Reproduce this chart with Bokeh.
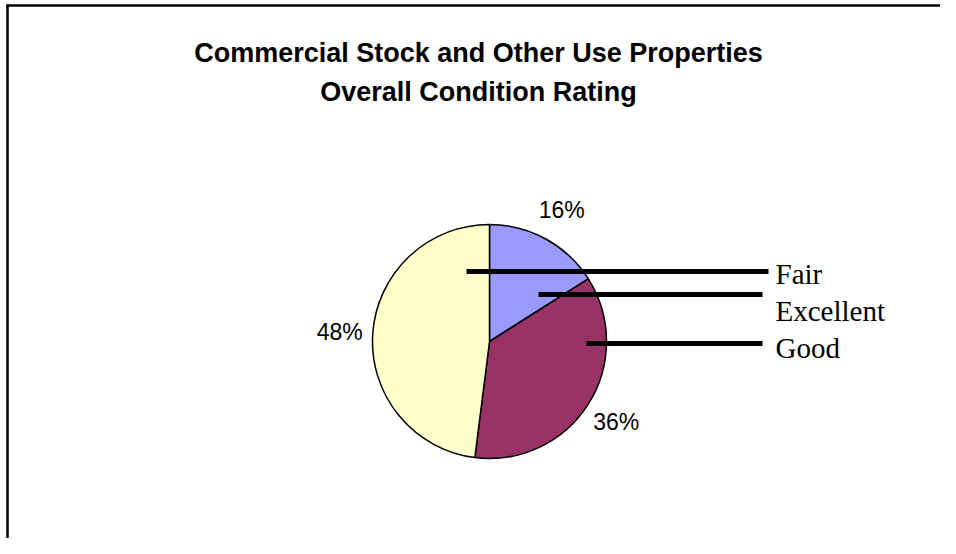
import math
from bokeh.plotting import figure
from bokeh.models import Range1d, ColumnDataSource
from bokeh.core.properties import value
from bokeh.embed import file_html
from bokeh.resources import INLINE

# ---- data ----
categories = ["Fair", "Excellent", "Good"]
shares = [16, 36, 48]
colors = ["#9999FF", "#993366", "#FFFFCC"]
title_lines = ["Commercial Stock and Other Use Properties", "Overall Condition Rating"]

W, H = 940, 538
def sy(screen_y):
    # convert picture y (from top) to data y (upwards)
    return H - screen_y
def sx(screen_x):
    return screen_x

p = figure(width=W, height=H, output_backend="svg", toolbar_location=None,
           x_range=Range1d(0, W), y_range=Range1d(0, H), min_border=0)
p.axis.visible = False
p.grid.visible = False
p.outline_line_color = None
p.background_fill_color = "white"
p.border_fill_color = "white"

# frame (left and top edges of the chart area)
p.line(x=[sx(7), sx(7)], y=[0, sy(4)], line_color="black", line_width=2.5)
p.line(x=[sx(6), W], y=[sy(5), sy(5)], line_color="black", line_width=2.5)

# title
p.text(x=[sx(478), sx(478)], y=[sy(52), sy(91)], text=title_lines,
       text_font=value("Liberation Sans"), text_font_style="bold",
       text_font_size="27px", text_align="center", text_baseline="middle",
       text_color="black")

# pie
cx, cy, r = sx(489), sy(341), 117
total = sum(shares)
starts, ends, lx, ly, labels = [], [], [], [], []
cum = 0
for s in shares:
    a0 = math.pi / 2 - 2 * math.pi * cum / total
    a1 = math.pi / 2 - 2 * math.pi * (cum + s) / total
    starts.append(a0)
    ends.append(a1)
    mid = (a0 + a1) / 2
    lx.append(cx + 150 * math.cos(mid))
    ly.append(cy + 150 * math.sin(mid))
    labels.append(f"{round(100 * s / total)}%")
    cum += s

src = ColumnDataSource(dict(start=starts, end=ends, color=colors))
p.wedge(x=cx, y=cy, radius=r, start_angle="start", end_angle="end",
        direction="clock", fill_color="color", line_color="black",
        line_width=1.5, source=src)

p.text(x=lx, y=ly, text=labels, text_font=value("Liberation Sans"),
       text_font_size="23px", text_align="center", text_baseline="middle",
       text_color="black")

# legend (keys drawn as long black bars, as in the original)
key_x0 = [sx(466), sx(538), sx(586)]
key_x1 = [sx(768), sx(762), sx(762)]
key_y = [sy(271), sy(294), sy(343)]
p.segment(x0=key_x0, y0=key_y, x1=key_x1, y1=key_y, line_color="black",
          line_width=5)
lab_y = [sy(273), sy(310), sy(347)]
p.text(x=[sx(775)] * 3, y=lab_y, text=categories,
       text_font=value("Liberation Serif"), text_font_size="29px",
       text_align="left", text_baseline="middle", text_color="black")

open("out.html", "w").write(file_html(p, INLINE))
